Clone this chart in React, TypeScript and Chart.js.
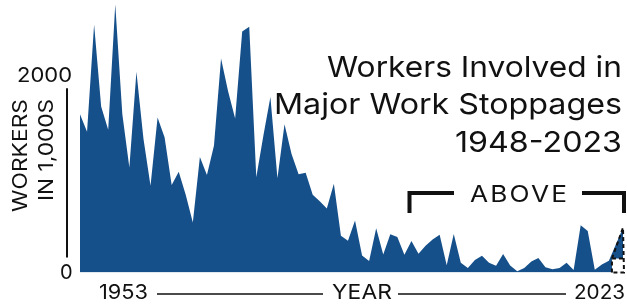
import React, { useEffect, useRef } from "react";
import { Chart, registerables } from "chart.js";

Chart.register(...registerables);

// 2023 is drawn one slot after 2022 with an empty category between, as in the reference
const years: string[] = [
  "1947","1948","1949","1950","1951","1952","1953","1954","1955","1956",
  "1957","1958","1959","1960","1961","1962","1963","1964","1965","1966",
  "1967","1968","1969","1970","1971","1972","1973","1974","1975","1976",
  "1977","1978","1979","1980","1981","1982","1983","1984","1985","1986",
  "1987","1988","1989","1990","1991","1992","1993","1994","1995","1996",
  "1997","1998","1999","2000","2001","2002","2003","2004","2005","2006",
  "2007","2008","2009","2010","2011","2012","2013","2014","2015","2016",
  "2017","2018","2019","2020","2021","2022","","2023",
];

const workers: (number | null)[] = [
  1620, 1440, 2540, 1700, 1462, 2746, 1623, 1075, 2055, 1370,
  887, 1587, 1381, 896, 1031, 793, 512, 1183, 999, 1300,
  2192, 1855, 1576, 2468, 2516, 975, 1400, 1796, 965, 1519,
  1212, 1006, 1021, 795, 729, 656, 909, 376, 324, 533,
  174, 118, 452, 185, 392, 364, 182, 322, 192, 273,
  339, 387, 73, 394, 99, 46, 129, 171, 100, 70,
  189, 72, 13, 45, 113, 148, 55, 34, 47, 99,
  25, 485, 425, 27, 81, 120, null, 458,
];

const yTickLabels: string[] = ["2000", "0"];
const yTickValues: number[] = [2000, 0];
const xEndLabels: string[] = ["1953", "2023"];
const titleLines: string[] = ["Workers Involved in", "Major Work Stoppages", "1948-2023"];
const yTitleLines: string[] = ["WORKERS", "IN 1,000S"];
const xTitle = "YEAR";
const bracketLabel = "ABOVE";

const FONT = "Inter, 'Open Sans', sans-serif";
const BLUE = "#16508b";

function fitText(
  ctx: CanvasRenderingContext2D,
  text: string,
  left: number,
  baseline: number,
  size: number,
  width: number
) {
  ctx.save();
  ctx.font = `400 ${size}px ${FONT}`;
  (ctx as any).letterSpacing = "0px";
  const w0 = ctx.measureText(text).width;
  const sx = Math.max(1, Math.min(width / w0, 1.14));
  const rest = width - w0 * sx;
  const ls = text.length > 1 ? rest / sx / (text.length - 1) : 0;
  (ctx as any).letterSpacing = `${ls}px`;
  ctx.textAlign = "left";
  ctx.textBaseline = "alphabetic";
  ctx.fillStyle = "#111";
  ctx.translate(left, baseline);
  ctx.scale(sx, 1);
  ctx.fillText(text, 0, 0);
  ctx.restore();
}

const decorPlugin = {
  id: "decor",
  afterDraw(chart: any) {
    const ctx: CanvasRenderingContext2D = chart.ctx;
    const y = chart.scales.y;
    const x = chart.scales.x;
    ctx.save();
    // Title
    fitText(ctx, titleLines[0], 327, 77, 29, 295);
    fitText(ctx, titleLines[1], 274, 114, 29, 348);
    fitText(ctx, titleLines[2], 455, 152, 29, 167);

    // Y tick labels
    const y2000 = y.getPixelForValue(yTickValues[0]);
    const y0 = y.getPixelForValue(yTickValues[1]);
    fitText(ctx, yTickLabels[0], 17, y2000 + 5, 20, 55);
    fitText(ctx, yTickLabels[1], 60, y0 + 6, 20, 12);

    // Y axis line
    ctx.strokeStyle = "#111";
    ctx.lineWidth = 2;
    ctx.beginPath();
    ctx.moveTo(67, y2000 + 11);
    ctx.lineTo(67, y0 - 15);
    ctx.stroke();

    // Y title rotated
    ctx.save();
    ctx.translate(27, 99);
    ctx.rotate(-Math.PI / 2);
    fitText(ctx, yTitleLines[0], -113, 0, 20, 113);
    ctx.restore();
    ctx.save();
    ctx.translate(53, 99);
    ctx.rotate(-Math.PI / 2);
    fitText(ctx, yTitleLines[1], -102, 0, 20, 102);
    ctx.restore();

    // X axis labels and line
    fitText(ctx, xEndLabels[0], 99, 299, 20, 49);
    fitText(ctx, xTitle, 332, 299, 20, 60);
    fitText(ctx, xEndLabels[1], 574, 299, 20, 51);
    ctx.lineWidth = 1.5;
    ctx.beginPath();
    ctx.moveTo(157, 294);
    ctx.lineTo(323, 294);
    ctx.moveTo(398, 294);
    ctx.lineTo(566, 294);
    ctx.stroke();

    // Bracket "ABOVE"
    ctx.lineWidth = 4;
    ctx.beginPath();
    ctx.moveTo(409.5, 213);
    ctx.lineTo(409.5, 193);
    ctx.lineTo(454, 193);
    ctx.moveTo(582, 193);
    ctx.lineTo(624, 193);
    ctx.lineTo(624, 213);
    ctx.stroke();
    fitText(ctx, bracketLabel, 470, 202, 23, 97);

    // Dashed highlight around the last value
    const n = workers.length;
    const xb = x.getPixelForValue(n - 1);
    const yb = y.getPixelForValue(workers[n - 1] as number);
    const xl = x.getPixelForValue(n - 2) - 4;
    const boxTop = y0 - 14;
    ctx.fillStyle = "#fff";
    ctx.fillRect(xl, boxTop, xb + 2 - xl, y0 - boxTop);
    ctx.lineWidth = 2;
    ctx.setLineDash([4, 3]);
    ctx.beginPath();
    ctx.moveTo(xl, y0);
    ctx.lineTo(xl, boxTop);
    ctx.lineTo(xb, yb);
    ctx.lineTo(xb + 1, y0);
    ctx.closePath();
    ctx.moveTo(xl, boxTop);
    ctx.lineTo(xb + 1, boxTop);
    ctx.stroke();
    ctx.restore();
  },
};

export default function App() {
  const ref = useRef<HTMLCanvasElement>(null);
  useEffect(() => {
    document.body.style.margin = "0";
    const canvas = ref.current!;
    const chart = new Chart(canvas, {
      type: "line",
      data: {
        labels: years,
        datasets: [
          {
            data: workers,
            fill: "origin",
            backgroundColor: BLUE,
            borderWidth: 0,
            pointRadius: 0,
            tension: 0,
            spanGaps: true,
          },
        ],
      },
      options: {
        animation: false,
        responsive: false,
        layout: { padding: { left: 80, right: 4, top: 0, bottom: 32.5 } },
        plugins: { legend: { display: false }, tooltip: { enabled: false } },
        scales: {
          x: { display: false, offset: false },
          y: { display: false, min: 0, max: 2790 },
        },
      },
      plugins: [decorPlugin],
    });
    return () => chart.destroy();
  }, []);
  return (
    <div style={{ width: 627, height: 305 }}>
      <canvas ref={ref} width={627} height={305} style={{ display: "block" }} />
    </div>
  );
}
